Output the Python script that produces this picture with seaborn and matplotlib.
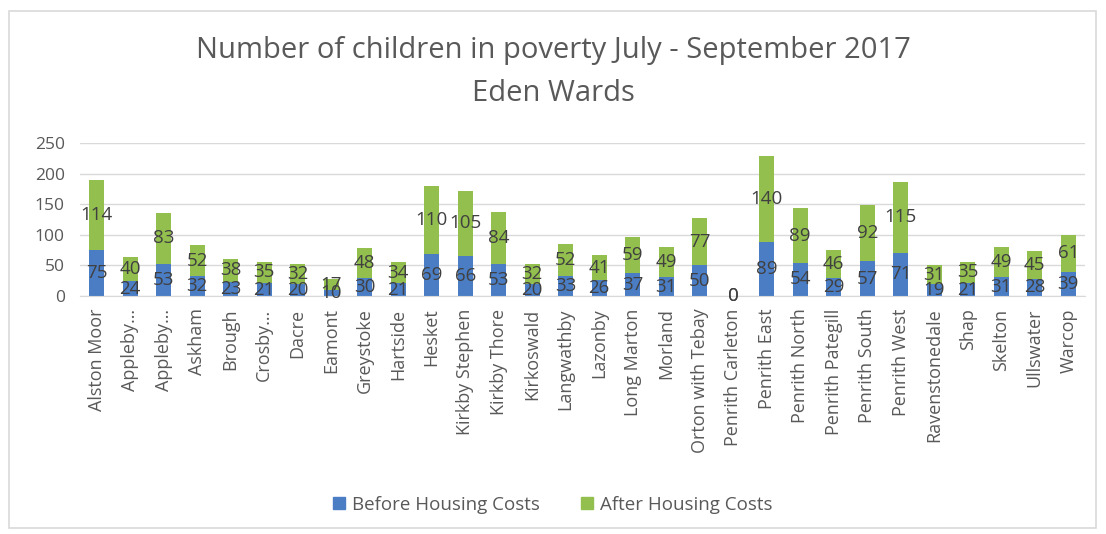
import matplotlib
matplotlib.use("Agg")
import matplotlib.pyplot as plt
import seaborn as sns
import pandas as pd
from matplotlib.patches import Rectangle, Patch

wards = ["Alston Moor", "Appleby\u2026", "Appleby\u2026", "Askham", "Brough", "Crosby\u2026",
         "Dacre", "Eamont", "Greystoke", "Hartside", "Hesket", "Kirkby Stephen",
         "Kirkby Thore", "Kirkoswald", "Langwathby", "Lazonby", "Long Marton", "Morland",
         "Orton with Tebay", "Penrith Carleton", "Penrith East", "Penrith North",
         "Penrith Pategill", "Penrith South", "Penrith West", "Ravenstonedale", "Shap",
         "Skelton", "Ullswater", "Warcop"]
before_hc = [75, 24, 53, 32, 23, 21, 20, 10, 30, 21, 69, 66, 53, 20, 33, 26, 37, 31,
             50, 0, 89, 54, 29, 57, 71, 19, 21, 31, 28, 39]
after_hc = [114, 40, 83, 52, 38, 35, 32, 17, 48, 34, 110, 105, 84, 32, 52, 41, 59, 49,
            77, 0, 140, 89, 46, 92, 115, 31, 35, 49, 45, 61]

BLUE = "#4A7DC4"
GREEN = "#93BF4F"
TXT = "#404040"

sns.set_style("white")
plt.rcParams["font.family"] = ["Open Sans", "DejaVu Sans"]

df = pd.DataFrame({"ward": range(len(wards)), "before": before_hc, "after": after_hc})
df["total"] = df["before"] + df["after"]

fig = plt.figure(figsize=(11.06, 5.34), dpi=100)
fig.patches.append(Rectangle((0.008, 0.012), 0.983, 0.968, transform=fig.transFigure,
                             fill=False, edgecolor="#D9D9D9", linewidth=1.2))
ax = fig.add_axes([0.0723, 0.4457, 0.9087, 0.2865])

sns.barplot(data=df, x="ward", y="total", color=GREEN, width=0.46, ax=ax,
            saturation=1, edgecolor="none")
sns.barplot(data=df, x="ward", y="before", color=BLUE, width=0.46, ax=ax,
            saturation=1, edgecolor="none")

for i, (b, a) in enumerate(zip(before_hc, after_hc)):
    ax.text(i, b / 2, str(b), ha="center", va="center", fontsize=13.5, color=TXT)
    ax.text(i, b + a / 2, str(a), ha="center", va="center", fontsize=13.5, color=TXT)

ax.set_ylim(0, 250)
ax.set_yticks(range(0, 251, 50))
ax.set_xlim(-0.5, len(wards) - 0.5)
ax.set_xticks(range(len(wards)))
ax.set_xticklabels(wards, rotation=90, fontsize=13, color="#595959")
ax.tick_params(axis="y", labelsize=12.5, labelcolor="#595959", length=0, pad=11)
ax.tick_params(axis="x", length=0, pad=9)
ax.set_xlabel("")
ax.set_ylabel("")
ax.yaxis.grid(True, color="#D9D9D9", linewidth=1)
ax.set_axisbelow(True)
for s in ["top", "right", "left"]:
    ax.spines[s].set_visible(False)
ax.spines["bottom"].set_color("#D9D9D9")

fig.text(0.5, 0.905, "Number of children in poverty July - September 2017",
         ha="center", va="center", fontsize=21, color="#595959")
fig.text(0.5, 0.825, "Eden Wards", ha="center", va="center", fontsize=21, color="#595959")

handles = [Patch(color=BLUE, label="Before Housing Costs"),
           Patch(color=GREEN, label="After Housing Costs")]
fig.legend(handles=handles, loc="center", bbox_to_anchor=(0.5, 0.055), ncol=2,
           frameon=False, fontsize=13.5, handlelength=0.6, handleheight=0.6,
           columnspacing=2.2, handletextpad=0.4, labelcolor="#595959")

fig.savefig("out.png", dpi=100)
